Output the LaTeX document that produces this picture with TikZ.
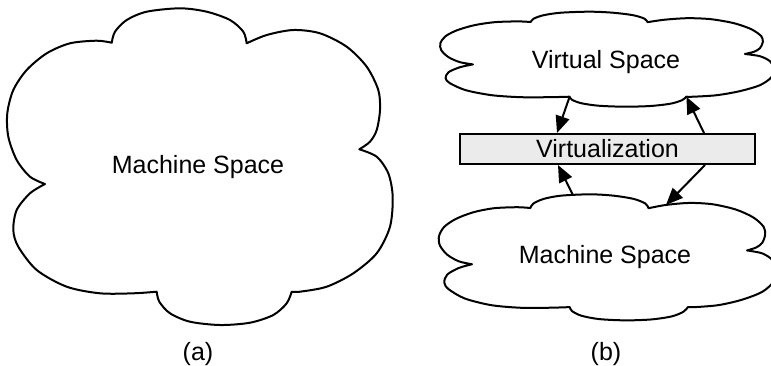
\documentclass[tikz,border=0pt]{standalone}
\usepackage{fontspec}
\setmainfont{Liberation Sans}
\usetikzlibrary{arrows.meta,calc}

% Outline of a six-lobed cloud, in its own unit frame
\newcommand\cloudoutline{%
  plot[smooth] coordinates {(111.7,42.7) (115,31.7) (126.7,20) (146.7,11.7) (180,8.3) (206.7,11.7) (230,20) (243.3,31.7) (246.7,43.3)}
  -- plot[smooth] coordinates {(246.7,43.3) (266.7,35) (293.3,30) (320,33.3) (346.7,46.7) (366.7,66.7) (378.3,90) (380,110) (376.7,130) (370,141.7) (359.3,149.3)}
  -- plot[smooth] coordinates {(359.3,149.3) (376.7,156.7) (388.3,173.3) (392.7,196.7) (390,226.7) (376.7,253.3) (353.3,273.3) (326.7,286.7) (300,291.7) (291.7,291.7)}
  -- plot[smooth] coordinates {(291.7,291.7) (286.7,303.3) (273.3,315) (250,322.7) (220,325) (190,321.7) (170,313.3) (159.3,301.7) (156.7,291.7)}
  -- plot[smooth] coordinates {(156.7,291.7) (133.3,293.3) (100,293.3) (66.7,286.7) (36.7,270) (18.3,246.7) (13.3,230) (16.7,210) (30,193.3) (45,184)}
  -- plot[smooth] coordinates {(45,184) (30,176.7) (16.7,160) (8.3,136.7) (7.3,113.3) (13.3,90) (26.7,70) (46.7,53.3) (70,43.3) (96.7,40.7) (111.7,42.7)}
  -- cycle}

\tikzset{
  cloudline/.style={draw=black, line width=2pt, line join=round, fill=white},
  label/.style={font=\fontsize{25}{30}\selectfont, inner sep=0pt},
  layerbox/.style={draw=black, line width=2pt, fill={rgb,255:red,235;green,235;blue,235},
    minimum width=295pt, minimum height=30pt, inner sep=0pt, font=\fontsize{25}{30}\selectfont},
  flow/.style={line width=2pt, -{Triangle[length=17pt,width=14pt]}}
}

\begin{document}
\begin{tikzpicture}[x=1pt, y=-1pt]
\useasboundingbox (0,0) rectangle (771,365);
\clip (0,0) rectangle (771,365);

% (a) the machine space alone
\draw[cloudline] \cloudoutline;
\node[label] (ma-label) at (198,167) {Machine Space};
\node[label] (cap-a) at (198,354) {(a)};

% (b) virtual space on top of machine space
\begin{scope}[shift={(473,22)}, xscale=0.865, yscale=0.3, shift={(-45,-42.7)}]
  \draw[cloudline] \cloudoutline;
  \coordinate (vs-bl) at (156.7,291.7);
  \coordinate (vs-br) at (291.7,291.7);
\end{scope}
\node[label] (vs-label) at (606,62) {Virtual Space};

\begin{scope}[shift={(472,208)}, xscale=0.875, yscale=0.398, shift={(-45,-42.7)}]
  \draw[cloudline] \cloudoutline;
  \coordinate (ms-tl) at (160.4,10);
  \coordinate (ms-tr) at (266.7,35);
\end{scope}
\node[label] (ms-label) at (605,257) {Machine Space};

\node[layerbox] (virt) at (607.5,149) {Virtualization};
\coordinate (virt-tl) at ($(virt.north west)+(98,0)$);
\coordinate (virt-tr) at ($(virt.north west)+(245,0)$);
\coordinate (virt-bl) at ($(virt.south west)+(99,0)$);
\coordinate (virt-br) at ($(virt.south west)+(246,0)$);

\draw[flow] (vs-bl) -- (virt-tl);
\draw[flow] (virt-tr) -- (vs-br);
\draw[flow] (ms-tl) -- (virt-bl);
\draw[flow] (virt-br) -- (ms-tr);

\node[label] (cap-b) at (606,354) {(b)};
\end{tikzpicture}
\end{document}
